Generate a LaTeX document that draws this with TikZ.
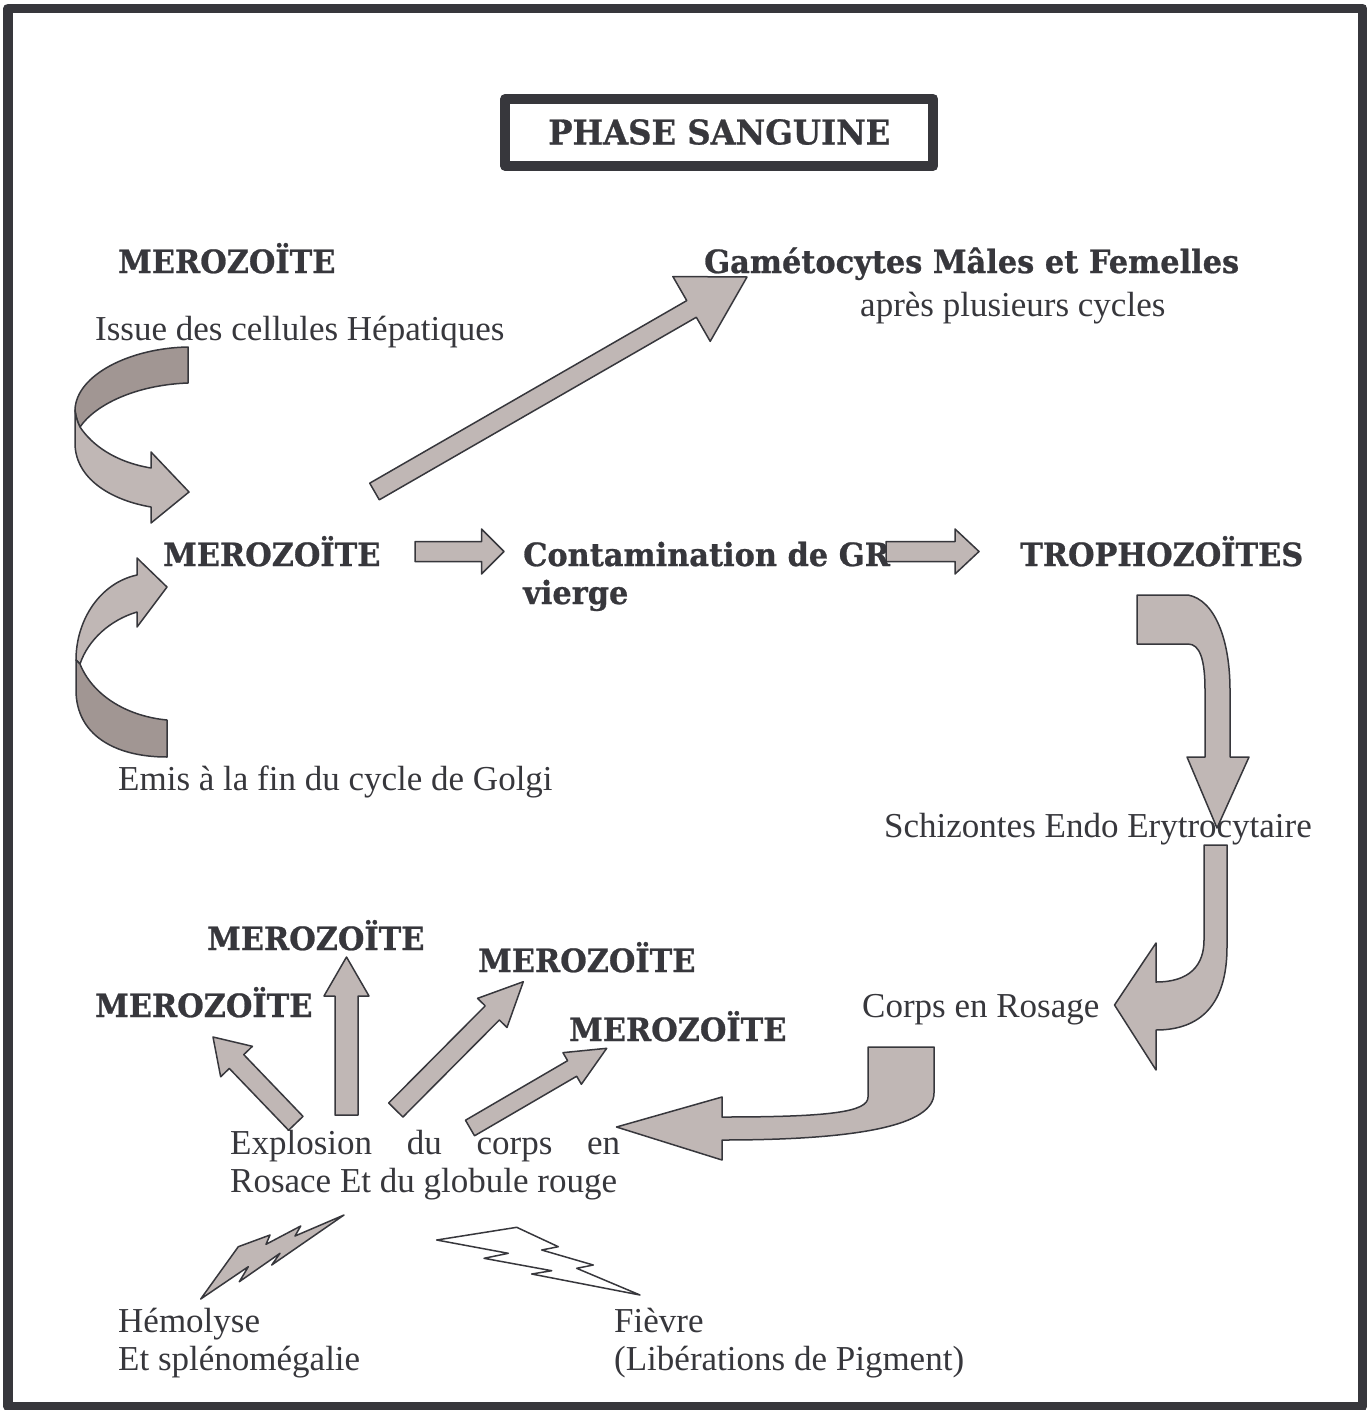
\documentclass[tikz,border=0pt]{standalone}
\usepackage{fontspec}
\setmainfont{Liberation Serif}
\newfontfamily\heavyfont{DejaVu Serif}[FakeStretch=0.95, FakeBold=0.8]
\usetikzlibrary{calc}
\definecolor{inkgray}{RGB}{55,55,60}
\definecolor{arrowfill}{RGB}{192,183,181}
\definecolor{arrowdark}{RGB}{161,150,147}
\tikzset{blockarr/.style={draw=inkgray, fill=arrowfill, line width=1.5pt, line join=round}}
\tikzset{lbl/.style={text=inkgray, font=\fontsize{35}{37.5}\selectfont, inner sep=0pt, anchor=base west}}
\tikzset{hd/.style={text=inkgray, font=\heavyfont\bfseries\fontsize{32}{38}\selectfont, inner sep=0pt, anchor=base west}}
% straight block arrow: tail, tip, half shaft, half head, head length
\newcommand{\blockarrow}[5]{%
  \coordinate (hb) at ($(#2)!#5!(#1)$);
  \draw[blockarr] ($(#1)!#3!90:(#2)$) -- ($(hb)!#3!90:(#2)$) -- ($(hb)!#4!90:(#2)$) -- (#2)
    -- ($(hb)!#4!-90:(#2)$) -- ($(hb)!#3!-90:(#2)$) -- ($(#1)!#3!-90:(#2)$) -- cycle;
}

\begin{document}
\begin{tikzpicture}[x=1pt, y=-1pt, line join=round]
\useasboundingbox (0,0) rectangle (1367,1410);
\draw[inkgray, line width=9.5pt] (8,8.3) rectangle (1362.5,1406.5);

\draw[inkgray, line width=10pt] (505.3,98.8) rectangle (933.3,166);
\node[hd, anchor=center, font=\heavyfont\bfseries\fontsize{34}{38}\selectfont] (title) at (719.3,132) {PHASE SANGUINE};

% curved arrows on the left
\draw[blockarr, fill=arrowdark] (188,347) .. controls (130,348) and (76,375) .. (75,410)
  .. controls (76,418) and (78,423) .. (80,427) .. controls (95,405) and (135,385) .. (188,383) -- cycle;
\draw[blockarr] (80,427) .. controls (92,445) and (115,462) .. (151,468) -- (151,452) -- (189,492)
  -- (151,523) -- (151,507) .. controls (110,500) and (75,478) .. (75,443) -- (75,410)
  .. controls (76,418) and (78,423) .. (80,427) -- cycle;

\draw[blockarr] (137,575) -- (137,558) -- (167,587) -- (137,627) -- (137,612)
  .. controls (110,620) and (88,640) .. (80,664) -- (76,660) .. controls (76,620) and (100,583) .. (137,575) -- cycle;
\draw[blockarr, fill=arrowdark] (76,660) -- (76,690) .. controls (76,735) and (115,757) .. (167,757)
  -- (167,720) .. controls (125,716) and (92,694) .. (80,664) -- cycle;

% straight arrows
\coordinate (g-tail) at (374.5,491.5);
\coordinate (g-tip) at (747,277);
\blockarrow{g-tail}{g-tip}{9.6pt}{37.4pt}{64pt}
\coordinate (c-tail) at (415,551.5);
\coordinate (c-tip) at (504,551.5);
\blockarrow{c-tail}{c-tip}{10pt}{22.5pt}{22.5pt}
\coordinate (t-tail) at (886,551.5);
\coordinate (t-tip) at (979,551.5);
\blockarrow{t-tail}{t-tip}{10pt}{22.5pt}{24pt}

% bent arrows on the right
\draw[blockarr] (1137,595) -- (1188,595) .. controls (1215,600) and (1230,640) .. (1230,690) -- (1230,757)
  -- (1249,757) -- (1217,828) -- (1187,757) -- (1205,757) -- (1205,690)
  .. controls (1205,660) and (1200,644) .. (1188,644) -- (1137,644) -- cycle;
\draw[blockarr] (1204,845) -- (1227,845) -- (1227,947) .. controls (1227,1005) and (1200,1030) .. (1156,1030)
  -- (1156,1070) -- (1114.5,1005) -- (1156,943) -- (1156,982)
  .. controls (1190,982) and (1204,965) .. (1204,940) -- cycle;
\draw[blockarr] (868,1047) -- (934,1047) -- (934,1093) .. controls (934,1125) and (860,1140) .. (722,1140)
  -- (722,1160) -- (616.5,1127) -- (722,1097) -- (722,1117)
  .. controls (830,1117) and (868,1112) .. (868,1097) -- cycle;

% burst of merozoites
\coordinate (e-left) at (295.8,1123.3);
\coordinate (e-mid) at (346.5,1115);
\coordinate (e-diag) at (395.8,1110);
\coordinate (e-right) at (470,1128);
\coordinate (m-left) at (213,1037);
\coordinate (m-up) at (346.5,957);
\coordinate (m-diag) at (523.3,981.7);
\coordinate (m-right) at (606.7,1048.3);
\blockarrow{e-left}{m-left}{10pt}{22pt}{34pt}
\blockarrow{e-mid}{m-up}{11.5pt}{22.5pt}{39pt}
\blockarrow{e-diag}{m-diag}{10pt}{20.7pt}{44pt}
\blockarrow{e-right}{m-right}{9pt}{18.3pt}{40pt}

% lightning
\draw[blockarr] (200.7,1299) -- (238.3,1246.7) -- (270,1235) -- (266,1244.3) -- (300.7,1226) -- (295,1236)
  -- (344,1215) -- (271.7,1265) -- (280,1253.3) -- (239.3,1281.7) -- (248.3,1266.7) -- cycle;
\draw[blockarr, fill=white] (436.7,1240) -- (516.7,1227.3) -- (558.3,1246.7) -- (541.7,1250) -- (593.3,1265)
  -- (576.7,1268.3) -- (640,1295) -- (531.7,1274) -- (551.7,1270.7) -- (484,1258.3) -- (508.3,1253.3) -- cycle;

% texts
\node[hd] (mero-hep) at (118,273) {MEROZOÏTE};
\node[lbl] (hep) at (95,340) {Issue des cellules Hépatiques};
\node[hd] (gameto) at (704,273) {Gamétocytes Mâles et Femelles};
\node[lbl] (cycles) at (860,316) {après plusieurs cycles};
\node[hd] (mero) at (163,566) {MEROZOÏTE};
\node[hd, align=left] (contam) at (523,604) {Contamination de GR\\vierge};
\node[hd] (tropho) at (1020,566) {TROPHOZOÏTES};
\node[lbl] (golgi) at (118,790) {Emis à la fin du cycle de Golgi};
\node[lbl] (schizo) at (884,837) {Schizontes Endo Erytrocytaire};
\node[lbl] (rosage) at (862,1017) {Corps en Rosage};
\node[hd] (mero-a) at (207,950) {MEROZOÏTE};
\node[hd] (mero-b) at (95,1017) {MEROZOÏTE};
\node[hd] (mero-c) at (478,972) {MEROZOÏTE};
\node[hd] (mero-d) at (569,1041) {MEROZOÏTE};
\node[lbl, align=left] (explo) at (230,1192) {\makebox[390pt][s]{Explosion du corps en}\\Rosace Et du globule rouge};
\node[lbl, align=left] (hemo) at (118,1370) {Hémolyse\\Et splénomégalie};
\node[lbl, align=left] (fievre) at (614,1370) {Fièvre\\(Libérations de Pigment)};

\end{tikzpicture}
\end{document}
